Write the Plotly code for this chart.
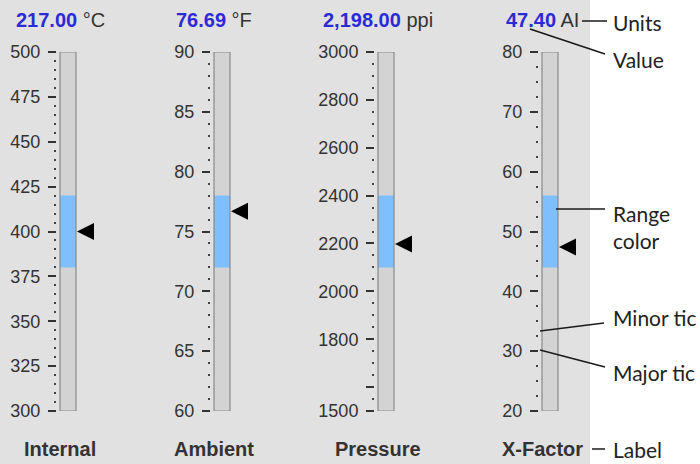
import plotly.graph_objects as go

W, H = 700, 464

# ── data ────────────────────────────────────────────────
labels = ["Internal", "Ambient", "Pressure", "X-Factor"]
value_text = ["217.00", "76.69", "2,198.00", "47.40"]
units = ["°C", "°F", "ppi", "AI"]
scale_min = [300, 60, 1500, 20]
scale_max = [500, 90, 3000, 80]
major_ticks = [
    [300, 325, 350, 375, 400, 425, 450, 475, 500],
    [60, 65, 70, 75, 80, 85, 90],
    [1500, 1600, 1800, 2000, 2200, 2400, 2600, 2800, 3000],
    [20, 30, 40, 50, 60, 70, 80],
]
major_text = [
    ["300", "325", "350", "375", "400", "425", "450", "475", "500"],
    ["60", "65", "70", "75", "80", "85", "90"],
    ["1500", "", "1800", "2000", "2200", "2400", "2600", "2800", "3000"],
    ["20", "30", "40", "50", "60", "70", "80"],
]
minor_step = [5, 1, 50, 2.5]
range_lo = [380, 72, 2100, 44]
range_hi = [420, 78, 2400, 56]
pointer = [400, 76.69, 2198, 47.40]

# ── layout helpers (pixel -> paper) ─────────────────────
bar_left = [60, 214, 378, 542]
bar_top, bar_bottom = 52, 411


def px(x):
    return x / W


def py(y):
    return 1 - y / H


fig = go.Figure()

for i in range(4):
    n = "" if i == 0 else str(i + 1)
    xa, ya = "x" + n, "y" + n
    span = scale_max[i] - scale_min[i]
    # gray track
    fig.add_trace(go.Bar(x=[11], y=[span], base=[scale_min[i]], width=16,
                         marker=dict(color="#d3d3d3", line=dict(width=0)),
                         xaxis=xa, yaxis=ya, hoverinfo="skip"))
    # range colour
    fig.add_trace(go.Bar(x=[11], y=[range_hi[i] - range_lo[i]], base=[range_lo[i]], width=16,
                         marker=dict(color="#80bfff", line=dict(width=0)),
                         xaxis=xa, yaxis=ya, hoverinfo="skip"))
    # outline
    fig.add_trace(go.Bar(x=[11], y=[span], base=[scale_min[i]], width=16,
                         marker=dict(color="rgba(0,0,0,0)", line=dict(width=1.2, color="#8a8a8a")),
                         xaxis=xa, yaxis=ya, hoverinfo="skip"))
    # pointer
    fig.add_trace(go.Scatter(x=[20], y=[pointer[i]], mode="markers",
                             marker=dict(symbol="arrow-left", size=17, color="black",
                                         line=dict(width=0)),
                             xaxis=xa, yaxis=ya, hoverinfo="skip"))

    L = bar_left[i]
    fig.layout["xaxis" + n] = dict(domain=[px(L - 3), px(L + 40)], range=[0, 43],
                                   visible=False, fixedrange=True, automargin=False)
    fig.layout["yaxis" + n] = dict(
        anchor=xa, domain=[py(bar_bottom), py(bar_top)],
        range=[scale_min[i], scale_max[i]],
        tickmode="array", tickvals=major_ticks[i], ticktext=major_text[i],
        ticks="outside", ticklen=8, tickwidth=2, tickcolor="#333",
        ticklabelstandoff=4, automargin=False,
        minor=dict(ticks="outside", dtick=minor_step[i], tick0=scale_min[i],
                   ticklen=2, tickwidth=2, tickcolor="#444", showgrid=False),
        showgrid=False, zeroline=False, showline=False,
        tickfont=dict(family="Liberation Sans, Arial", size=18, color="#333"),
        fixedrange=True,
    )

    # value + units above, label below
    fig.add_annotation(
        xref="paper", yref="paper", x=px(L), y=py(20), xanchor="center", yanchor="middle",
        text=f"<b><span style='color:#2b2bd6'>{value_text[i]}</span></b> {units[i]}",
        showarrow=False, font=dict(family="Liberation Sans, Arial", size=20, color="#333"),
    )
    fig.add_annotation(
        xref="paper", yref="paper", x=px(L), y=py(449), xanchor="center", yanchor="middle",
        text=f"<b>{labels[i]}</b>", showarrow=False,
        font=dict(family="Liberation Sans, Arial", size=20, color="#333"),
    )

# gray panel
shapes = [dict(type="rect", xref="paper", yref="paper", x0=0, x1=px(590), y0=0, y1=1,
               fillcolor="#e1e1e1", line=dict(width=0), layer="below")]

# callouts on the right
callouts = [
    ("Units", 22, (582, 21), (607, 21)),
    ("Value", 60, (530, 29), (605, 54)),
    ("Range<br>color", 227, (556, 209), (605, 209)),
    ("Minor tic", 317, (540, 331), (604, 323)),
    ("Major tic", 372, (540, 350), (605, 367)),
    ("Label", 449, (592, 449), (605, 449)),
]
for text, ty, (x0, y0), (x1, y1) in callouts:
    shapes.append(dict(type="line", xref="paper", yref="paper",
                       x0=px(x0), y0=py(y0), x1=px(x1), y1=py(y1),
                       line=dict(color="#1a1a1a", width=1.5)))
    fig.add_annotation(xref="paper", yref="paper", x=px(611), y=py(ty),
                       xanchor="left", yanchor="middle", align="left", text=text,
                       showarrow=False,
                       font=dict(family="Lato", size=21, color="#222"))

fig.update_layout(
    width=W, height=H,
    margin=dict(l=0, r=0, t=0, b=0, autoexpand=False),
    paper_bgcolor="white",
    plot_bgcolor="rgba(0,0,0,0)",
    barmode="overlay",
    showlegend=False,
    shapes=shapes,
)

# drop the browser's default 8px body margin so the figure sits at the page origin
fig.write_html("out.html", config={"displayModeBar": False},
               post_script="document.body.style.margin='0';")
